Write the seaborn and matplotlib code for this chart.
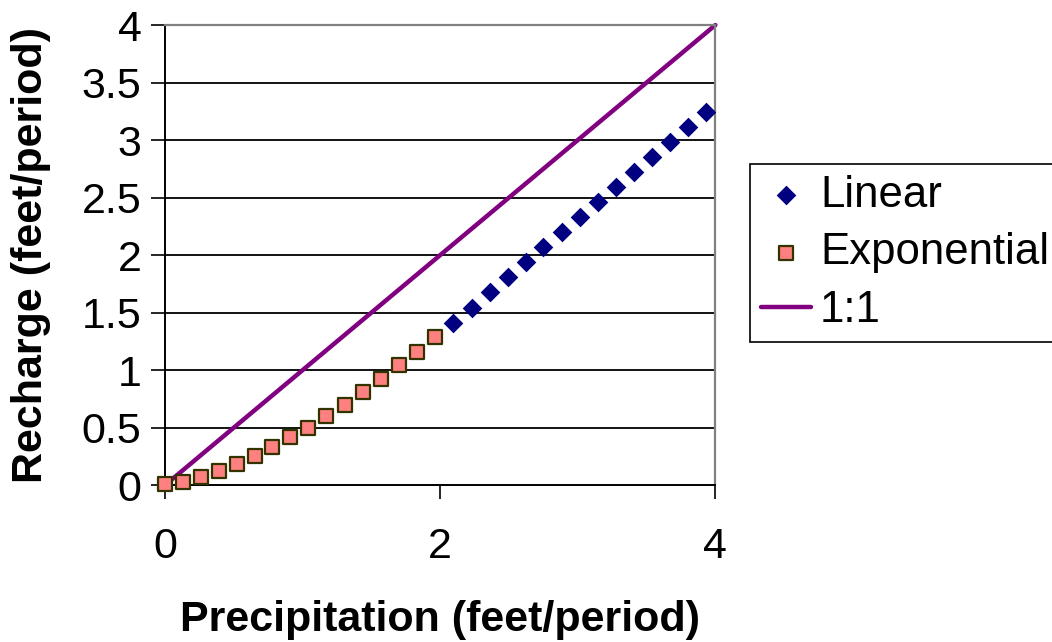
import pandas as pd
import seaborn as sns
import matplotlib.pyplot as plt

# Data
exp_x = [0.00, 0.13, 0.26, 0.39, 0.52, 0.65, 0.78, 0.91, 1.04, 1.17, 1.31, 1.44, 1.57, 1.70, 1.83, 1.96]
exp_y = [0.01, 0.03, 0.07, 0.12, 0.18, 0.25, 0.33, 0.415, 0.50, 0.60, 0.70, 0.81, 0.92, 1.04, 1.16, 1.285]
lin_x = [2.095, 2.23, 2.36, 2.49, 2.62, 2.75, 2.885, 3.015, 3.15, 3.28, 3.41, 3.54, 3.67, 3.80, 3.935]
lin_y = [1.41, 1.54, 1.675, 1.805, 1.94, 2.07, 2.20, 2.33, 2.46, 2.59, 2.72, 2.85, 2.985, 3.115, 3.245]
one_x = [0, 4]
one_y = [0, 4]

df_lin = pd.DataFrame({"x": lin_x, "y": lin_y})
df_exp = pd.DataFrame({"x": exp_x, "y": exp_y})
df_one = pd.DataFrame({"x": one_x, "y": one_y})

sns.set_style("white")
plt.rcParams['font.family'] = ['Liberation Sans', 'DejaVu Sans']
plt.rcParams['text.color'] = 'black'
plt.rcParams['axes.labelcolor'] = 'black'
plt.rcParams['xtick.color'] = 'black'
plt.rcParams['ytick.color'] = 'black'

fig = plt.figure(figsize=(10.52, 6.42), dpi=100)
ax = fig.add_axes([0.157, 0.2445, 0.523, 0.7165])

# gridlines
for yv in [0.5, 1, 1.5, 2, 2.5, 3, 3.5]:
    ax.axhline(yv, color="black", lw=1.3, zorder=0)

sns.scatterplot(data=df_lin, x="x", y="y", marker="D", s=100, color="#000080",
                edgecolor="#000080", linewidth=0, label="Linear", ax=ax, zorder=3)
sns.scatterplot(data=df_exp, x="x", y="y", marker="s", s=115, color="#FF8080",
                edgecolor="#333300", linewidth=1.6, label="Exponential", ax=ax,
                zorder=3, clip_on=False)
sns.lineplot(data=df_one, x="x", y="y", color="#800080", lw=3.2, label="1:1",
             ax=ax, zorder=2)
ax.lines[-1].set_clip_on(False)

ax.set_xlim(0, 4)
ax.set_ylim(0, 4)
ax.set_xticks([0, 2, 4])
ax.set_xticklabels(["0", "2", "4"])
ax.set_yticks([0, 0.5, 1, 1.5, 2, 2.5, 3, 3.5, 4])
ax.set_yticklabels(["0", "0.5", "1", "1.5", "2", "2.5", "3", "3.5", "4"])
ax.tick_params(axis="both", labelsize=31, length=10, width=1.2, color="black",
               direction="out", left=True, bottom=True)
ax.tick_params(axis="y", pad=7)
ax.tick_params(axis="x", pad=20)

for side in ["left", "bottom"]:
    ax.spines[side].set_color("black")
    ax.spines[side].set_linewidth(1.4)
for side in ["right", "top"]:
    ax.spines[side].set_color("#808080")
    ax.spines[side].set_linewidth(1.6)

ax.set_xlabel("Precipitation (feet/period)", fontsize=31, fontweight="bold", labelpad=24)
ax.set_ylabel("Recharge (feet/period)", fontsize=31, fontweight="bold", labelpad=22)

leg = ax.legend(loc="center left", bbox_to_anchor=(1.0636, 0.505), fontsize=31.5,
                frameon=True, fancybox=False, edgecolor="black", framealpha=1,
                handlelength=1.14, handletextpad=0.2, borderpad=0.25,
                labelspacing=0.38, borderaxespad=0)
leg.get_frame().set_linewidth(1.2)

fig.savefig("out.png", dpi=100)
